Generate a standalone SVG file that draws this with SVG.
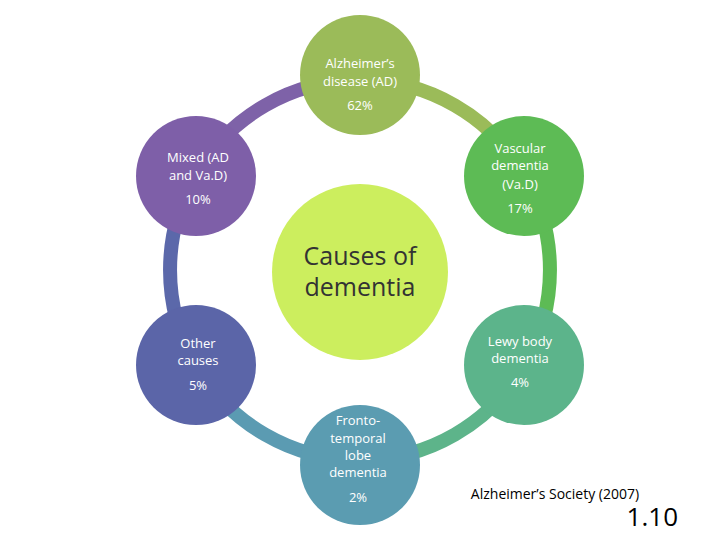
<svg xmlns="http://www.w3.org/2000/svg" width="720" height="540" viewBox="0 0 720 540">
<style>
.arc{fill:none;stroke-width:14}
.t{font-family:"Open Sans","Liberation Sans",sans-serif;font-size:13px;fill:#fff;text-anchor:middle}
</style>
<rect width="720" height="540" fill="#fff"/>
<g id="connectors">
<path class="arc" stroke="#9BBB59" d="M360 80 A190 190 0 0 1 524.5 175"/>
<path class="arc" stroke="#5DBB55" d="M524.5 175 A190 190 0 0 1 524.5 365"/>
<path class="arc" stroke="#5DB48A" d="M524.5 365 A190 190 0 0 1 360 460"/>
<path class="arc" stroke="#5B9BB2" d="M360 460 A190 190 0 0 1 195.5 365"/>
<path class="arc" stroke="#5B68AA" d="M195.5 365 A190 190 0 0 1 195.5 175"/>
<path class="arc" stroke="#7E62A8" d="M195.5 175 A190 190 0 0 1 360 80"/>
</g>
<g id="center"><circle cx="360" cy="272" r="88" fill="#CCEE5E"/>
<text x="360" y="265" font-family="Open Sans,Liberation Sans,sans-serif" font-size="25" fill="#333" text-anchor="middle">Causes of</text>
<text x="360" y="296" font-family="Open Sans,Liberation Sans,sans-serif" font-size="25" fill="#333" text-anchor="middle">dementia</text></g>
<g id="ad"><circle cx="360" cy="75" r="60" fill="#9BBB59"/>
<text class="t" x="360" y="68">Alzheimer’s</text><text class="t" x="360" y="86">disease (AD)</text><text class="t" x="360" y="110">62%</text></g>
<g id="vad"><circle cx="524" cy="176" r="60" fill="#5DBB55"/>
<text class="t" x="520" y="153">Vascular</text><text class="t" x="520" y="170">dementia</text><text class="t" x="520" y="189">(Va.D)</text><text class="t" x="520" y="213">17%</text></g>
<g id="lewy"><circle cx="524" cy="365" r="60" fill="#5CB48B"/>
<text class="t" x="520" y="346">Lewy body</text><text class="t" x="520" y="363">dementia</text><text class="t" x="520" y="387">4%</text></g>
<g id="ft"><circle cx="360" cy="465" r="60" fill="#5B9CB1"/>
<text class="t" x="358" y="425">Fronto-</text><text class="t" x="358" y="443">temporal</text><text class="t" x="358" y="460">lobe</text><text class="t" x="358" y="477">dementia</text><text class="t" x="358" y="502">2%</text></g>
<g id="other"><circle cx="196" cy="365" r="60" fill="#5B65A8"/>
<text class="t" x="198" y="348">Other</text><text class="t" x="198" y="365">causes</text><text class="t" x="198" y="390">5%</text></g>
<g id="mixed"><circle cx="196" cy="176" r="60" fill="#7E5FA8"/>
<text class="t" x="198" y="162">Mixed (AD</text><text class="t" x="198" y="180">and Va.D)</text><text class="t" x="198" y="204">10%</text></g>
<text x="555" y="499" font-family="Open Sans,Liberation Sans,sans-serif" font-size="14" fill="#000" text-anchor="middle">Alzheimer’s Society (2007)</text>
<text x="678" y="526" font-family="Open Sans,Liberation Sans,sans-serif" font-size="26" fill="#000" text-anchor="end">1.10</text>
</svg>
